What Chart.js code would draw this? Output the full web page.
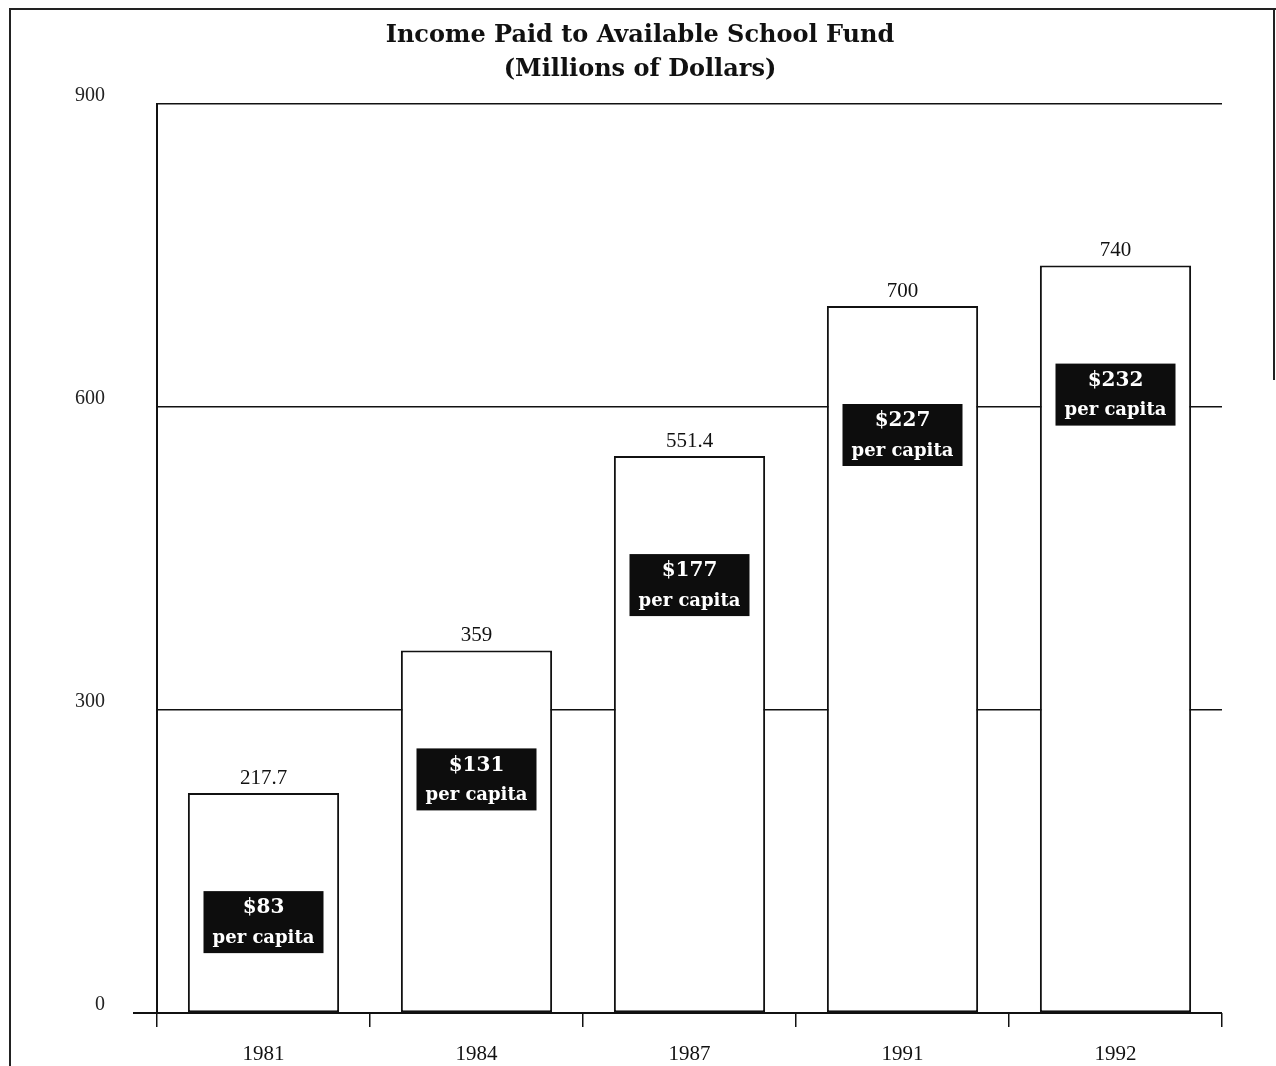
<!DOCTYPE html>
<html>
<head>
<meta charset="utf-8">
<title>Income Paid to Available School Fund</title>
<script src="https://cdn.jsdelivr.net/npm/chart.js@4"></script>
<style>
    body { margin: 0; background: #fff; }
    #wrap { position: relative; width: 1276px; height: 1066px; overflow: hidden; }
    #chart { position: absolute; left: 0; top: 0; }
    .edge { position: absolute; background: #222; }
</style>
</head>
<body>
<div id="wrap">
    <canvas id="chart" width="1276" height="1066"></canvas>
    <!-- scanned page frame -->
    <div class="edge" style="left:9px; top:8px; width:2px; height:1058px;"></div>
    <div class="edge" style="left:9px; top:8px; width:1267px; height:2px;"></div>
    <div class="edge" style="left:1273px; top:8px; width:2px; height:372px;"></div>
</div>
<script>
// Chart data
const categories = ['1981', '1984', '1987', '1991', '1992'];
const incomeValues = [217.7, 359, 551.4, 700, 740];
const valueLabels = ['217.7', '359', '551.4', '700', '740'];
const perCapitaLabels = ['$83', '$131', '$177', '$227', '$232'];
const yTickValues = [0, 300, 600, 900];

const titleLines = ['Income Paid to Available School Fund', '(Millions of Dollars)'];
const serif = '"Liberation Serif", "Times New Roman", serif';
const wideSerif = '"DejaVu Serif", serif';
const ink = '#111';

// Title drawn centred on the page
const titlePlugin = {
    id: 'pageTitle',
    afterDraw(chart) {
        const ctx = chart.ctx;
        ctx.save();
        ctx.fillStyle = ink;
        ctx.textAlign = 'center';
        ctx.textBaseline = 'middle';
        ctx.font = 'bold 24px ' + wideSerif;
        ctx.fillText(titleLines[0], 640, 36);
        ctx.fillText(titleLines[1], 640, 70);
        ctx.restore();
    }
};

// Extended x axis line (runs a bit left of the y axis)
const axisPlugin = {
    id: 'axisLine',
    afterDraw(chart) {
        const ctx = chart.ctx;
        const y = chart.scales.y.getPixelForValue(0);
        ctx.save();
        ctx.strokeStyle = ink;
        ctx.lineWidth = 2;
        ctx.beginPath();
        ctx.moveTo(133, y);
        ctx.lineTo(chart.chartArea.right, y);
        ctx.stroke();
        ctx.restore();
    }
};

// Value labels above bars and black per capita boxes inside them
const barLabelPlugin = {
    id: 'barLabels',
    afterDatasetsDraw(chart) {
        const ctx = chart.ctx;
        const meta = chart.getDatasetMeta(0);
        ctx.save();
        ctx.textAlign = 'center';
        ctx.textBaseline = 'middle';
        meta.data.forEach((bar, i) => {
            // value above bar
            ctx.fillStyle = ink;
            ctx.font = '21px ' + serif;
            ctx.fillText(valueLabels[i], bar.x, bar.y - 15);

            // per capita box
            const cy = bar.y + 129;
            const w = 120, h = 62;
            ctx.fillStyle = '#0d0d0d';
            ctx.fillRect(bar.x - w / 2, cy - h / 2, w, h);
            ctx.fillStyle = '#fff';
            ctx.font = 'bold 20px ' + wideSerif;
            ctx.fillText(perCapitaLabels[i], bar.x, cy - 14);
            ctx.font = 'bold 18px ' + wideSerif;
            ctx.fillText('per capita', bar.x, cy + 16);
        });
        ctx.restore();
    }
};

const ctx = document.getElementById('chart');

new Chart(ctx, {
    type: 'bar',
    data: {
        labels: categories,
        datasets: [{
            label: 'Income',
            data: incomeValues,
            backgroundColor: '#fff',
            borderColor: ink,
            borderWidth: 2,
            borderSkipped: false,
            barPercentage: 0.71,
            categoryPercentage: 1
        }]
    },
    options: {
        responsive: false,
        animation: false,
        layout: {
            padding: { left: 7, right: 54, top: 104, bottom: 0 }
        },
        plugins: {
            legend: { display: false },
            title: { display: false },
            tooltip: { enabled: false }
        },
        scales: {
            x: {
                offset: true,
                grid: {
                    display: true,
                    offset: true,
                    drawOnChartArea: false,
                    drawTicks: true,
                    tickLength: 14,
                    color: ink,
                    lineWidth: 1.5
                },
                border: { display: false },
                ticks: {
                    color: ink,
                    padding: 15,
                    font: { family: serif, size: 21 }
                },
                afterFit(scale) { scale.height = 53; }
            },
            y: {
                min: 0,
                max: 900,
                afterBuildTicks(scale) {
                    scale.ticks = yTickValues.map(v => ({ value: v }));
                },
                grid: {
                    color: (c) => c.tick && c.tick.value === 0 ? 'rgba(0,0,0,0)' : ink,
                    lineWidth: 1.5,
                    drawTicks: false
                },
                border: { display: true, color: ink, width: 2 },
                ticks: {
                    color: '#222',
                    padding: 52,
                    labelOffset: -8,
                    font: { family: serif, size: 20 }
                },
                afterFit(scale) {
                    scale.width = 150;
                    // the large label padding should not push the plot area
                    scale.paddingTop = 0;
                    scale.paddingBottom = 0;
                }
            }
        }
    },
    plugins: [titlePlugin, axisPlugin, barLabelPlugin]
});
</script>
</body>
</html>
